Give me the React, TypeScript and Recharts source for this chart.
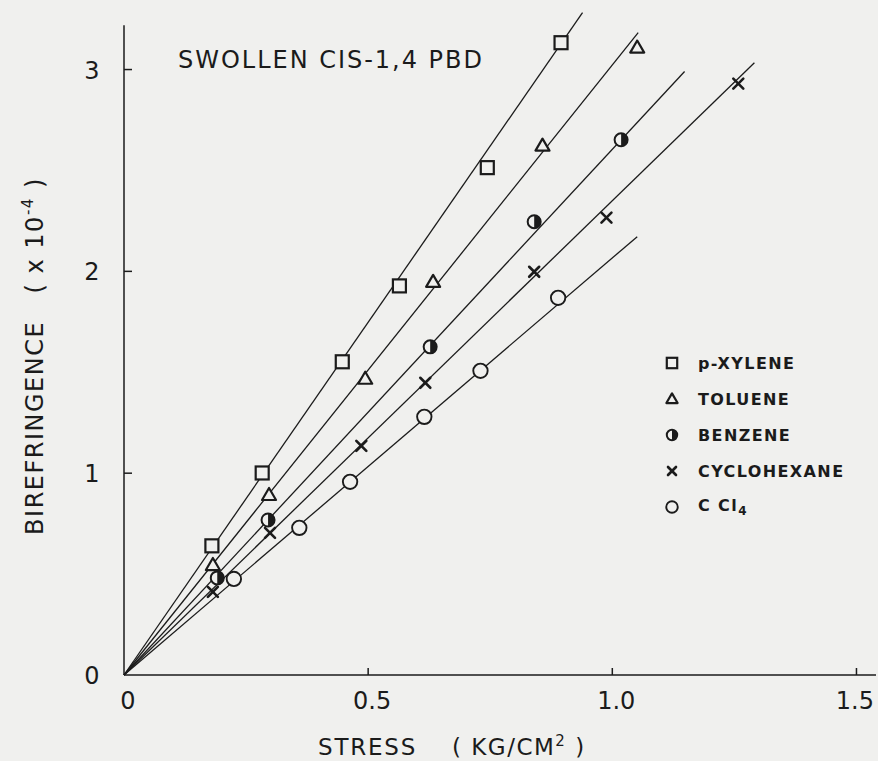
import React from 'react';
import { ScatterChart, Scatter, XAxis, YAxis, ReferenceLine, Legend } from 'recharts';

const BG = '#f0f0ee';
const INK = '#1b1b1b';

const xTicks = [0, 0.5, 1.0, 1.5];
const xTickLabels = ['0', '0.5', '1.0', '1.5'];
const yTicks = [0, 1, 2, 3];
const yTickLabels = ['0', '1', '2', '3'];

const seriesNames = ['p-XYLENE', 'TOLUENE', 'BENZENE', 'CYCLOHEXANE', 'CCl4'];
const seriesMarkers = ['square', 'triangle', 'half', 'cross', 'circle'];

const pXyleneX = [0.18, 0.283, 0.447, 0.564, 0.744, 0.895];
const pXyleneY = [0.64, 1.001, 1.552, 1.928, 2.514, 3.133];
const tolueneX = [0.182, 0.297, 0.494, 0.633, 0.857, 1.051];
const tolueneY = [0.545, 0.892, 1.468, 1.948, 2.623, 3.109];
const benzeneX = [0.191, 0.295, 0.627, 0.84, 1.018];
const benzeneY = [0.481, 0.768, 1.626, 2.246, 2.652];
const cyclohexaneX = [0.182, 0.299, 0.486, 0.617, 0.84, 0.988, 1.258];
const cyclohexaneY = [0.412, 0.704, 1.135, 1.448, 1.998, 2.266, 2.93];
const ccl4X = [0.225, 0.359, 0.463, 0.615, 0.73, 0.889];
const ccl4Y = [0.476, 0.729, 0.957, 1.279, 1.507, 1.869];

// end points of the fitted straight lines (all start at the origin)
const fitEndX = [0.939, 1.053, 1.148, 1.291, 1.051];
const fitEndY = [3.282, 3.183, 2.99, 3.034, 2.172];

const seriesX = [pXyleneX, tolueneX, benzeneX, cyclohexaneX, ccl4X];
const seriesY = [pXyleneY, tolueneY, benzeneY, cyclohexaneY, ccl4Y];

const pointData = seriesX.map((xs, i) => xs.map((x, j) => ({ x, y: seriesY[i][j] })));
const lineData = fitEndX.map((ex, i) => [
  { x: 0, y: 0 },
  { x: ex, y: fitEndY[i] },
]);

const FONT = '"DejaVu Sans", "Liberation Sans", sans-serif';

function Marker({ kind, cx, cy, s = 1 }: { kind: string; cx: number; cy: number; s?: number }) {
  if (kind === 'square') {
    const h = 6.5 * s;
    return <rect x={cx - h} y={cy - h} width={2 * h} height={2 * h} fill={BG} stroke={INK} strokeWidth={2.2} />;
  }
  if (kind === 'triangle') {
    const h = 7 * s;
    return (
      <polygon
        points={`${cx},${cy - h} ${cx - h},${cy + h * 0.72} ${cx + h},${cy + h * 0.72}`}
        fill={BG}
        stroke={INK}
        strokeWidth={2.2}
        strokeLinejoin="round"
      />
    );
  }
  if (kind === 'half') {
    const r = 6.5 * s;
    return (
      <g>
        <circle cx={cx} cy={cy} r={r} fill={BG} stroke={INK} strokeWidth={2} />
        <path d={`M ${cx} ${cy - r} A ${r} ${r} 0 0 1 ${cx} ${cy + r} Z`} fill={INK} />
      </g>
    );
  }
  if (kind === 'cross') {
    const h = 5 * s;
    return (
      <g stroke={INK} strokeWidth={2.6} strokeLinecap="round">
        <line x1={cx - h} y1={cy - h} x2={cx + h} y2={cy + h} />
        <line x1={cx - h} y1={cy + h} x2={cx + h} y2={cy - h} />
      </g>
    );
  }
  const r = 7.2 * s;
  return <circle cx={cx} cy={cy} r={r} fill={BG} stroke={INK} strokeWidth={1.9} />;
}

const makeShape = (kind: string) => (props: any) => {
  const { cx, cy } = props;
  if (cx == null || cy == null) return <g />;
  return <Marker kind={kind} cx={cx} cy={cy} />;
};

const noShape = () => <g />;

const XTick = (props: any) => {
  const { x, y, payload, index } = props;
  const last = index === xTicks.length - 1;
  return (
    <g>
      {payload.value !== 0 && <line x1={x} y1={y} x2={x} y2={y - 7} stroke={INK} strokeWidth={1.5} />}
      <text
        x={last ? 874 : x + 4}
        y={y + 34}
        textAnchor={last ? 'end' : 'middle'}
        fontFamily={FONT}
        fontSize={24}
        fill={INK}
      >
        {xTickLabels[index] ?? String(payload.value)}
      </text>
    </g>
  );
};

const YTick = (props: any) => {
  const { x, y, payload, index } = props;
  return (
    <g>
      {payload.value !== 0 && <line x1={x} y1={y} x2={x + 8} y2={y} stroke={INK} strokeWidth={1.5} />}
      <text x={x - 32} y={y + 9} textAnchor="middle" fontFamily={FONT} fontSize={24} fill={INK}>
        {yTickLabels[index] ?? String(payload.value)}
      </text>
    </g>
  );
};

const LegendContent = () => (
  <div style={{ fontFamily: FONT, color: INK }}>
    {seriesNames.map((name, i) => (
      <div key={name} style={{ display: 'flex', alignItems: 'center', height: 36 }}>
        <svg width={24} height={24} style={{ marginRight: 14 }}>
          <Marker kind={seriesMarkers[i]} cx={12} cy={12} s={0.8} />
        </svg>
        <span style={{ fontSize: 16, fontWeight: 'bold', letterSpacing: 1.4 }}>
          {name === 'CCl4' ? (
            <>
              C Cl<sub style={{ fontSize: 12 }}>4</sub>
            </>
          ) : (
            name
          )}
        </span>
      </div>
    ))}
  </div>
);

const YLabel = () => (
  <text
    x={43}
    y={356}
    transform="rotate(-90 43 356)"
    textAnchor="middle"
    fontFamily={FONT}
    fontSize={24}
    fill={INK}
    letterSpacing={1.5}
  >
    BIREFRINGENCE{'\u00a0\u00a0\u00a0'}( x 10
    <tspan dy={-10} fontSize={15}>
      -4
    </tspan>
    <tspan dy={10}> )</tspan>
  </text>
);

const XLabel = () => (
  <g fontFamily={FONT} fontSize={23} fill={INK}>
    <text x={318} y={755} letterSpacing={1.8}>
      STRESS
    </text>
    <text x={452} y={755} letterSpacing={1.5}>
      ( KG/CM
      <tspan dy={-9} fontSize={15}>
        2
      </tspan>
      <tspan dy={9}> )</tspan>
    </text>
  </g>
);

export default function App() {
  return (
    <div style={{ position: 'absolute', left: 0, top: 0, width: 878, height: 761, background: BG }}>
      <ScatterChart width={878} height={761} margin={{ top: 9, right: 2, bottom: 56, left: 64 }}>
        <XAxis
          type="number"
          dataKey="x"
          domain={[0, 1.54]}
          ticks={xTicks}
          tickSize={0}
          tickMargin={0}
          tick={<XTick />}
          axisLine={{ stroke: INK, strokeWidth: 1.5 }}
          height={30}
          label={<XLabel />}
        />
        <YAxis
          type="number"
          dataKey="y"
          domain={[0, 3.3]}
          ticks={yTicks}
          tickSize={0}
          tickMargin={0}
          tick={<YTick />}
          axisLine={false}
          width={60}
          label={<YLabel />}
        />
        <ReferenceLine
          segment={[
            { x: 0, y: 0 },
            { x: 0, y: 3.22 },
          ]}
          stroke={INK}
          strokeWidth={1.5}
          ifOverflow="visible"
        />
        {lineData.map((d, i) => (
          <Scatter
            key={'fit' + i}
            data={d}
            line={{ stroke: INK, strokeWidth: 1.3 }}
            shape={noShape}
            legendType="none"
            isAnimationActive={false}
          />
        ))}
        {pointData.map((d, i) => (
          <Scatter
            key={seriesNames[i]}
            name={seriesNames[i]}
            data={d}
            shape={makeShape(seriesMarkers[i])}
            isAnimationActive={false}
          />
        ))}
        <Legend
          layout="vertical"
          verticalAlign="middle"
          align="center"
          content={<LegendContent />}
          wrapperStyle={{ position: 'absolute', left: 660, top: 345, width: 215, height: 185 }}
        />
      </ScatterChart>
      <svg
        width={878}
        height={761}
        style={{ position: 'absolute', left: 0, top: 0, pointerEvents: 'none' }}
      >
        <text x={178} y={68} fontFamily={FONT} fontSize={24} fill={INK} textLength={304} lengthAdjust="spacing">
          SWOLLEN CIS-1,4 PBD
        </text>
      </svg>
    </div>
  );
}
